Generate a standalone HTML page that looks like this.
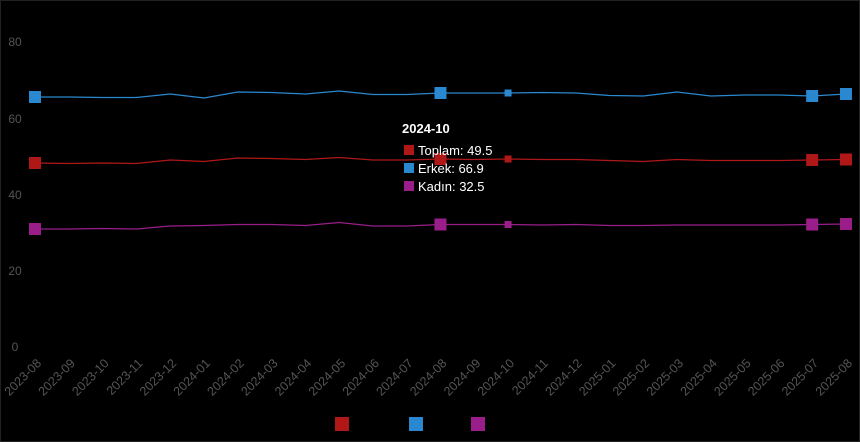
<!DOCTYPE html><html><head><style>body{margin:0;background:#000;}svg{display:block}text{font-family:"Liberation Sans",sans-serif}</style></head><body>
<svg width="860" height="442" xmlns="http://www.w3.org/2000/svg">
<rect x="0.5" y="0.5" width="859" height="441" fill="#000" stroke="#222"/>
<g fill="#555" font-size="12" text-anchor="middle">
<text x="15" y="46">80</text><text x="15" y="123">60</text><text x="15" y="199">40</text><text x="15" y="275">20</text><text x="15" y="351">0</text>
</g>
<g id="xl" fill="#555" font-size="12.5" text-anchor="end"></g>
<polyline id="b" fill="none" stroke="#2a88d0" stroke-width="1.3"/>
<polyline id="r" fill="none" stroke="#b01818" stroke-width="1.3"/>
<polyline id="p" fill="none" stroke="#9a1e8a" stroke-width="1.3"/>
<g id="m"></g>
<text x="402" y="133" fill="#fff" font-size="13" font-weight="bold">2024-10</text>
<rect x="404" y="145" width="10" height="10" fill="#b01818"/><text x="418" y="155" fill="#fff" font-size="13">Toplam: 49.5</text>
<rect x="404" y="163" width="10" height="10" fill="#2a88d0"/><text x="418" y="173" fill="#fff" font-size="13">Erkek: 66.9</text>
<rect x="404" y="181" width="10" height="10" fill="#9a1e8a"/><text x="418" y="191" fill="#fff" font-size="13">Kadın: 32.5</text>
<rect x="335" y="417" width="14" height="14" fill="#b01818"/>
<rect x="409" y="417" width="14" height="14" fill="#2a88d0"/>
<rect x="471" y="417" width="14" height="14" fill="#9a1e8a"/>
</svg>
<script>
const labs=["2023-08","2023-09","2023-10","2023-11","2023-12","2024-01","2024-02","2024-03","2024-04","2024-05","2024-06","2024-07","2024-08","2024-09","2024-10","2024-11","2024-12","2025-01","2025-02","2025-03","2025-04","2025-05","2025-06","2025-07","2025-08"];
const B=[97,97,97.5,97.5,94,98,92,92.5,94,91,94.5,94.5,93,93,93,92.5,93,95.5,96,92,96,95,95,96,94];
const R=[163,163.5,163,163.5,160,161.5,158,158.5,159.5,157.5,160,160,159,159.5,159,159.5,159.5,160.5,161.5,159.5,160.5,160.5,160.5,160,159.5];
const P=[229,229,228.5,229,226,225.5,224.5,224.5,225.5,222.5,226,226,224.5,224.5,224.5,225,224.5,225.5,225.5,225,225,225,225,224.5,224];
const X=i=>35+i*33.79;
const ns="http://www.w3.org/2000/svg";
const xl=document.getElementById('xl');
labs.forEach((l,i)=>{const t=document.createElementNS(ns,'text');const x=X(i)+7,y=364;t.setAttribute('x',x);t.setAttribute('y',y);t.setAttribute('transform',`rotate(-45 ${x} ${y})`);t.textContent=l;xl.appendChild(t);});
[['b',B,'#2a88d0'],['r',R,'#b01818'],['p',P,'#9a1e8a']].forEach(([id,d,c])=>{
document.getElementById(id).setAttribute('points',d.map((y,i)=>X(i)+','+y).join(' '));
const m=document.getElementById('m');
[[0,12],[12,12],[23,12],[24,12],[14,7]].forEach(([i,s])=>{const r=document.createElementNS(ns,'rect');r.setAttribute('x',X(i)-s/2);r.setAttribute('y',d[i]-s/2);r.setAttribute('width',s);r.setAttribute('height',s);r.setAttribute('fill',c);m.appendChild(r);});
});
</script>
</body></html>
